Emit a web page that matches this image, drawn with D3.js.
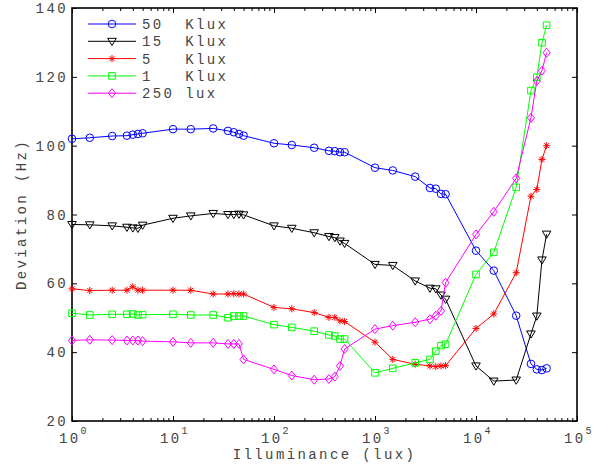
<!DOCTYPE html>
<html>
<head>
<meta charset="utf-8">
<script src="https://cdn.jsdelivr.net/npm/d3@7"></script>
<style>
  body { margin: 0; background: #fff; }
  text { font-family: "Liberation Mono", "DejaVu Sans Mono", monospace; fill: #444; }
</style>
</head>
<body>
<svg></svg>
<script>
// illuminance steps (lux)
const lux = [1, 1.5, 2.5, 3.5, 4, 4.5, 5, 10, 15, 25, 35, 40, 45, 50,
  100, 150, 250, 350, 400, 450, 500, 1000, 1500, 2500, 3500, 4000, 4500, 5000,
  10000, 15000, 25000, 35000, 40000, 45000, 50000];

const dev50k = [102, 102.3, 102.8, 102.9, 103.2, 103.4, 103.6, 104.8, 104.8, 105, 104.3, 103.9, 103.4, 102.9,
  100.7, 100.2, 99.4, 98.5, 98.4, 98.1, 98.1, 93.6, 92.8, 91, 87.7, 87.5, 86, 85.9,
  69.5, 63.7, 50.6, 36.6, 35, 34.8, 35.3];
const dev15k = [77.1, 77, 76.7, 76.3, 76.1, 76, 76.9, 78.9, 79.6, 80.3, 80, 80, 80.1, 79.9,
  76.7, 76, 74.7, 73.6, 73.3, 72.3, 71.6, 65.5, 65.2, 60.7, 58.6, 58.4, 56.6, 55.4,
  36, 31.6, 31.9, 45.3, 50.5, 66.8, 74.3];
const dev5k = [58.4, 57.9, 58, 58, 59, 58, 58, 58, 58, 56.9, 56.9, 57, 56.9, 56.9,
  53, 52.6, 51.5, 50.1, 50.1, 49.1, 48.9, 42.9, 37.9, 36.5, 36, 35.8, 36, 36.1,
  46.9, 51.1, 63.1, 85.3, 87.3, 96, 100];
const dev1k = [51.3, 50.8, 51, 51, 51.1, 50.8, 50.9, 51, 50.8, 50.8, 50, 50.5, 50.5, 50.5,
  48, 47.2, 46.1, 45, 44.7, 43.8, 43.8, 34, 35.3, 36.9, 37.9, 40.3, 41.9, 42.3,
  62.6, 69, 87.9, 116, 119.9, 129.9, 135];
const dev250 = [43.4, 43.6, 43.5, 43.4, 43.4, 43.4, 43.2, 43, 42.7, 42.7, 42.4, 42.4, 42.4, 37.9,
  35, 33.2, 32, 32.2, 32.9, 36, 40.9, 46.7, 47.7, 48.7, 49.6, 50.6, 52, 60.2,
  74.2, 80.8, 90.5, 108.1, 118.8, 121.8, 127];

const seriesNames = ['50  Klux', '15  Klux', '5   Klux', '1   Klux', '250 lux'];
const seriesColors = ['#0000ff', '#000000', '#ff0000', '#00ff00', '#ff00ff'];
const seriesMarkers = ['circle', 'triangle', 'star', 'square', 'diamond'];
const seriesValues = [dev50k, dev15k, dev5k, dev1k, dev250];

const yTicks = [20, 40, 60, 80, 100, 120, 140];
const xDecades = [1, 10, 100, 1000, 10000, 100000];

const width = 608;
const height = 465;
const padL = 72, padR = 577, padT = 8, padB = 421;

const svg = d3.select('svg').attr('width', width).attr('height', height);

const x = d3.scaleLog().domain([1, 1e5]).range([padL, padR]);
const y = d3.scaleLinear().domain([20, 140]).range([padB, padT]);

// marker shapes
let markerPath = (type) => {
  if (type === 'circle') return 'M3.8,0A3.8,3.8 0 1,1 -3.8,0A3.8,3.8 0 1,1 3.8,0Z';
  if (type === 'triangle') return 'M-4.3,-3L4.3,-3L0,4.2Z';
  if (type === 'square') return 'M-3.3,-3.3H3.3V3.3H-3.3Z';
  if (type === 'diamond') return 'M0,-4.5L3.6,0L0,4.5L-3.6,0Z';
  return 'M0,-3.5V3.5M-3.5,0H3.5M-2.5,-2.5L2.5,2.5M-2.5,2.5L2.5,-2.5';
};

// frame ticks
const minor = x.ticks().filter(v => Math.abs(Math.log10(v) - Math.round(Math.log10(v))) > 1e-6);

svg.append('g').attr('transform', `translate(0,${padB})`)
  .call(d3.axisBottom(x).tickValues(xDecades).tickSize(-5).tickFormat(''))
  .call(g => g.select('.domain').remove());
svg.append('g').attr('transform', `translate(0,${padB})`)
  .call(d3.axisBottom(x).tickValues(minor).tickSize(-3).tickFormat(''))
  .call(g => g.select('.domain').remove());
svg.append('g').attr('transform', `translate(0,${padT})`)
  .call(d3.axisTop(x).tickValues(xDecades).tickSize(-5).tickFormat(''))
  .call(g => g.select('.domain').remove());
svg.append('g').attr('transform', `translate(0,${padT})`)
  .call(d3.axisTop(x).tickValues(minor).tickSize(-3).tickFormat(''))
  .call(g => g.select('.domain').remove());
svg.append('g').attr('transform', `translate(${padL},0)`)
  .call(d3.axisLeft(y).tickValues(yTicks).tickSize(-5).tickFormat(''))
  .call(g => g.select('.domain').remove());
svg.append('g').attr('transform', `translate(${padR},0)`)
  .call(d3.axisRight(y).tickValues(yTicks).tickSize(-5).tickFormat(''))
  .call(g => g.select('.domain').remove());

svg.selectAll('.tick line').attr('stroke', '#000').attr('stroke-width', 1);

svg.append('rect')
  .attr('x', padL).attr('y', padT)
  .attr('width', padR - padL).attr('height', padB - padT)
  .attr('fill', 'none').attr('stroke', '#000').attr('stroke-width', 1.6);

// tick labels
svg.append('g').selectAll('text').data(yTicks).enter().append('text')
  .attr('x', padL - 4).attr('y', d => y(d) + 5)
  .attr('text-anchor', 'end')
  .style('font-size', '14px').style('letter-spacing', '2.4px')
  .text(d => d);

const xl = svg.append('g').selectAll('text').data(xDecades).enter().append('text')
  .attr('x', d => x(d) - 13).attr('y', 443)
  .style('font-size', '14px').style('letter-spacing', '2.4px');
xl.append('tspan').text('10');
xl.append('tspan').attr('dy', -9).style('font-size', '10px').style('letter-spacing', '0px')
  .text(d => Math.round(Math.log10(d)));

svg.append('text')
  .attr('x', (padL + padR) / 2).attr('y', 459)
  .attr('text-anchor', 'middle')
  .style('font-size', '14px').style('letter-spacing', '2.4px')
  .text('Illuminance (lux)');

svg.append('text')
  .attr('transform', `translate(26,${(padT + padB) / 2}) rotate(-90)`)
  .attr('text-anchor', 'middle')
  .style('font-size', '14px').style('letter-spacing', '2.4px')
  .text('Deviation (Hz)');

// series
const line = d3.line().x(d => x(d[0])).y(d => y(d[1]));

seriesValues.forEach((vals, i) => {
  const pts = lux.map((l, j) => [l, vals[j]]);
  const g = svg.append('g');
  g.append('path').datum(pts)
    .attr('d', line)
    .attr('fill', 'none').attr('stroke', seriesColors[i]).attr('stroke-width', 1);
  g.selectAll('path.m').data(pts).enter().append('path')
    .attr('class', 'm')
    .attr('transform', d => `translate(${x(d[0])},${y(d[1])})`)
    .attr('d', markerPath(seriesMarkers[i]))
    .attr('fill', 'none').attr('stroke', seriesColors[i]).attr('stroke-width', 1);
});

// legend
const legend = svg.append('g').selectAll('g').data(seriesNames).enter().append('g')
  .attr('transform', (d, i) => `translate(0,${24 + i * 17.3})`);
legend.append('line')
  .attr('x1', 88).attr('x2', 136).attr('y1', 0).attr('y2', 0)
  .attr('stroke', (d, i) => seriesColors[i]).attr('stroke-width', 1);
legend.append('path')
  .attr('transform', 'translate(112,0)')
  .attr('d', (d, i) => markerPath(seriesMarkers[i]))
  .attr('fill', 'none').attr('stroke', (d, i) => seriesColors[i]).attr('stroke-width', 1);
legend.append('text')
  .attr('x', 142).attr('y', 5)
  .style('font-size', '14px').style('letter-spacing', '2.4px')
  .style('white-space', 'pre')
  .attr('xml:space', 'preserve')
  .text(d => d);
</script>
</body>
</html>
